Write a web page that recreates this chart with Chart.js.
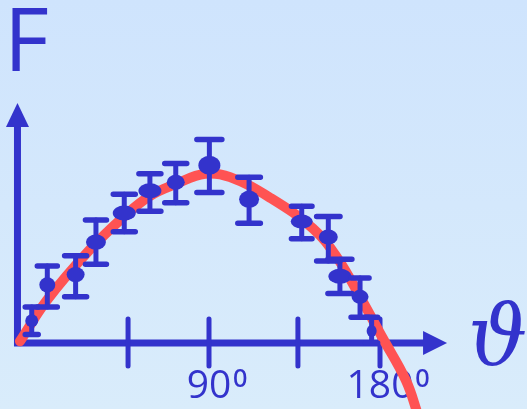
<!DOCTYPE html>
<html>
<head>
<meta charset="utf-8">
<script src="https://cdn.jsdelivr.net/npm/chart.js@4"></script>
<style>
  html, body { margin: 0; padding: 0; }
  body { background: linear-gradient(#cfe4fd, #d9ecfb); }
  #wrap { width: 527px; height: 409px; position: relative; }
</style>
</head>
<body>
<div id="wrap"><canvas id="forceChart"></canvas></div>
<script>
// Measured points: angle (degrees) and force F with error bar ends
const thetaDeg = [-3.3, 4.9, 19.8, 30.5, 45.4, 58.9, 72.5, 90.2, 111.1, 138.8, 152.8, 158.9, 169.5, 175.6];
const forceF   = [0.13, 0.34, 0.40, 0.59, 0.76, 0.89, 0.94, 1.04, 0.84, 0.71, 0.62, 0.39, 0.27, 0.07];
const forceHi  = [0.21, 0.45, 0.51, 0.72, 0.87, 0.99, 1.05, 1.19, 0.97, 0.80, 0.74, 0.49, 0.38, 0.15];
const forceLo  = [0.05, 0.21, 0.27, 0.46, 0.65, 0.77, 0.82, 0.88, 0.70, 0.61, 0.48, 0.29, 0.15, 0.00];

// Fitted curve
const fitTheta = [-9.5, 4.7, 26.8, 45.3, 58.9, 72.6, 87.9, 101.1, 122.1, 144.7, 157.4, 170.5, 181.1, 193.7, 200];
const fitF     = [0.01, 0.25, 0.54, 0.74, 0.86, 0.93, 0.99, 0.97, 0.85, 0.67, 0.50, 0.25, 0.035, -0.22, -0.42];

// Axis ticks and labels
const tickTheta = [47.4, 90, 136.8, 180];
const tickLabels = ['', '90', '', '180'];
const degreeMark = '\u2070';
const xTitle = '\u03D1';
const yTitle = 'F';
const axisOriginTheta = -10.8;
const axisEndTheta = 215.3;
const axisTopF = 1.404;

// styles
const blue = '#3333cc';
const red = '#ff5353';
const dotRx = [6.5, 8, 9, 10, 11.5, 11.5, 9, 11, 10, 11, 9.5, 11.5, 8.5, 5];
const dotRy = [6.5, 7.5, 7.5, 7.5, 7.5, 7.5, 7.5, 9.5, 8.5, 7, 7.5, 7.5, 7, 6];
const capHalf = [6.5, 10, 11, 10.5, 11, 11, 11, 12.5, 11.3, 10.3, 11.7, 12, 9, 6];

// font sized so the glyph ink is a given height
function fitFont(ctx, text, style, family, inkHeight) {
  ctx.font = style + ' 100px ' + family;
  const m = ctx.measureText(text);
  const size = 100 * inkHeight / (m.actualBoundingBoxAscent + m.actualBoundingBoxDescent);
  ctx.font = style + ' ' + size.toFixed(1) + 'px ' + family;
  return ctx.measureText(text);
}

// Draw the hand-made looking axes, arrows, ticks and titles
const sketchAxes = {
  id: 'sketchAxes',
  beforeDatasetsDraw(chart) {
    const { ctx, scales: { x, y } } = chart;
    const ox = x.getPixelForValue(axisOriginTheta);
    const oy = y.getPixelForValue(0);
    const topY = y.getPixelForValue(axisTopF);
    const endX = x.getPixelForValue(axisEndTheta);
    ctx.save();
    ctx.strokeStyle = blue;
    ctx.fillStyle = blue;
    ctx.lineWidth = 7;
    ctx.beginPath();
    ctx.moveTo(ox, oy + 3.5);
    ctx.lineTo(ox, topY + 20);
    ctx.moveTo(ox - 3.5, oy);
    ctx.lineTo(endX - 20, oy);
    ctx.stroke();
    // arrow heads
    ctx.beginPath();
    ctx.moveTo(ox, topY);
    ctx.lineTo(ox - 11.5, topY + 24);
    ctx.lineTo(ox + 11.5, topY + 24);
    ctx.closePath();
    ctx.fill();
    ctx.beginPath();
    ctx.moveTo(endX, oy);
    ctx.lineTo(endX - 24, oy - 12);
    ctx.lineTo(endX - 24, oy + 12);
    ctx.closePath();
    ctx.fill();
    // ticks
    ctx.lineWidth = 5;
    ctx.lineCap = 'round';
    tickTheta.forEach(t => {
      const px = x.getPixelForValue(t);
      ctx.beginPath();
      ctx.moveTo(px, oy - 24);
      ctx.lineTo(px, oy + 23);
      ctx.stroke();
    });
    // tick labels, digits centred on the tick, degree mark raised after
    ctx.textAlign = 'left';
    ctx.textBaseline = 'alphabetic';
    tickTheta.forEach((t, i) => {
      if (!tickLabels[i]) return;
      const px = x.getPixelForValue(t);
      ctx.font = '39px "Open Sans"';
      const w = ctx.measureText(tickLabels[i]).width;
      const left = px - w / 2;
      ctx.fillText(tickLabels[i], left, 398);
      const dm = fitFont(ctx, degreeMark, 'normal', '"Open Sans"', 18);
      ctx.fillText(degreeMark, left + w + 2 + dm.actualBoundingBoxLeft, 369 + dm.actualBoundingBoxAscent);
    });
    // y title
    ctx.font = '87px "Open Sans"';
    let m = ctx.measureText(yTitle);
    ctx.fillText(yTitle, 12 + m.actualBoundingBoxLeft, 71);
    // x title
    m = fitFont(ctx, xTitle, 'italic', '"DejaVu Serif"', 65);
    ctx.fillText(xTitle, 472 + m.actualBoundingBoxLeft, 300 + m.actualBoundingBoxAscent);
    ctx.restore();
  }
};

// Error bars and dots on top of the curve
const errorDots = {
  id: 'errorDots',
  afterDatasetsDraw(chart) {
    const { ctx, scales: { y } } = chart;
    const meta = chart.getDatasetMeta(1);
    ctx.save();
    ctx.strokeStyle = blue;
    ctx.fillStyle = blue;
    ctx.lineCap = 'round';
    meta.data.forEach((pt, i) => {
      const yHi = y.getPixelForValue(forceHi[i]);
      const yLo = y.getPixelForValue(forceLo[i]);
      ctx.lineWidth = 5;
      ctx.beginPath();
      ctx.moveTo(pt.x, yHi);
      ctx.lineTo(pt.x, yLo);
      ctx.stroke();
      ctx.lineWidth = 5.5;
      ctx.beginPath();
      ctx.moveTo(pt.x - capHalf[i], yHi);
      ctx.lineTo(pt.x + capHalf[i], yHi);
      ctx.moveTo(pt.x - capHalf[i], yLo);
      ctx.lineTo(pt.x + capHalf[i], yLo);
      ctx.stroke();
      ctx.beginPath();
      ctx.ellipse(pt.x, pt.y, dotRx[i], dotRy[i], 0, 0, Math.PI * 2);
      ctx.fill();
    });
    ctx.restore();
  }
};

const ctx = document.getElementById('forceChart').getContext('2d');
new Chart(ctx, {
  type: 'scatter',
  data: {
    datasets: [{
      type: 'line',
      data: fitTheta.map((t, i) => ({ x: t, y: fitF[i] })),
      borderColor: red,
      borderWidth: 10,
      borderCapStyle: 'round',
      pointRadius: 0,
      tension: 0.4,
      fill: false
    }, {
      type: 'scatter',
      data: thetaDeg.map((t, i) => ({ x: t, y: forceF[i] })),
      pointRadius: 0,
      pointHoverRadius: 0
    }]
  },
  options: {
    responsive: true,
    maintainAspectRatio: false,
    animation: false,
    events: [],
    layout: { padding: 0 },
    plugins: { legend: { display: false }, tooltip: { enabled: false } },
    scales: {
      x: { type: 'linear', min: -20, max: 257.37, display: false },
      y: { min: -0.386, max: 2.006, display: false }
    }
  },
  plugins: [sketchAxes, errorDots]
});
</script>
</body>
</html>
